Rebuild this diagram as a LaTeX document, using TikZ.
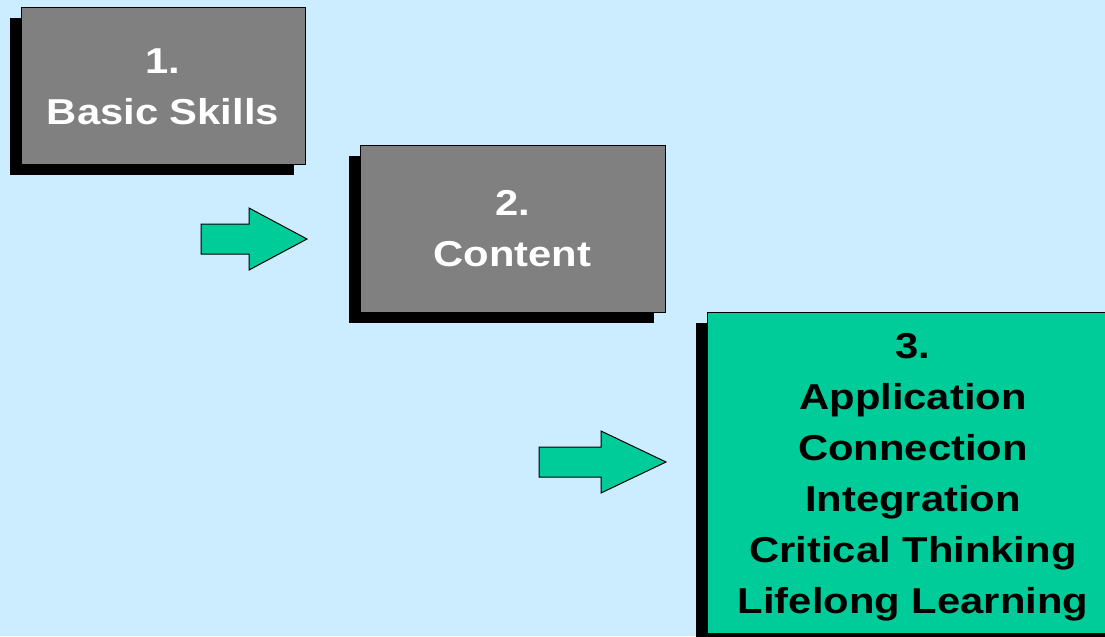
\documentclass[tikz,border=0pt]{standalone}
\usepackage{fontspec}
\setmainfont{Liberation Sans}[FakeStretch=1.16]
\usetikzlibrary{shadows}
\definecolor{skyback}{HTML}{CCECFF}
\definecolor{stepgray}{HTML}{808080}
\definecolor{stepgreen}{HTML}{00CC99}
\tikzset{
  stagebox/.style={draw=black, line width=0.75pt, rectangle, inner sep=0pt,
    align=center, font=\fontsize{27pt}{38.25pt}\selectfont\bfseries,
    drop shadow={shadow xshift=-8.25pt, shadow yshift=-8.25pt, opacity=1, fill=black}},
  blockarrow/.style={fill=stepgreen, draw=black, line width=0.75pt, line join=miter}
}
\begin{document}
\begin{tikzpicture}[x=0.75pt, y=-0.75pt]
  \path[use as bounding box, fill=skyback] (0,0) rectangle (1105,636);
  \clip (0,0) rectangle (1105,636);

  % the three stages
  \node[stagebox, fill=stepgray, text=white, minimum width=213pt, minimum height=117.75pt]
    (b1) at (163,85.5) {\rule{0pt}{21pt}1.\\Basic Skills};
  \node[stagebox, fill=stepgray, text=white, minimum width=228.75pt, minimum height=125.25pt]
    (b2) at (512.5,228.5) {2.\\Content};
  \node[stagebox, fill=stepgreen, text=black, minimum width=309pt, minimum height=240.75pt]
    (b3) at (913,472.5) {\rule{0pt}{25.5pt}3.\\Application\\Connection\\Integration\\Critical Thinking\\Lifelong Learning};

  % block arrows leading from one stage to the next
  \draw[blockarrow] (201,224) -- (249,224) -- (249,208) -- (307,239)
    -- (249,270) -- (249,254) -- (201,254) -- cycle;
  \draw[blockarrow] (539,447) -- (601,447) -- (601,431) -- (666,462)
    -- (601,493) -- (601,477) -- (539,477) -- cycle;
\end{tikzpicture}
\end{document}
